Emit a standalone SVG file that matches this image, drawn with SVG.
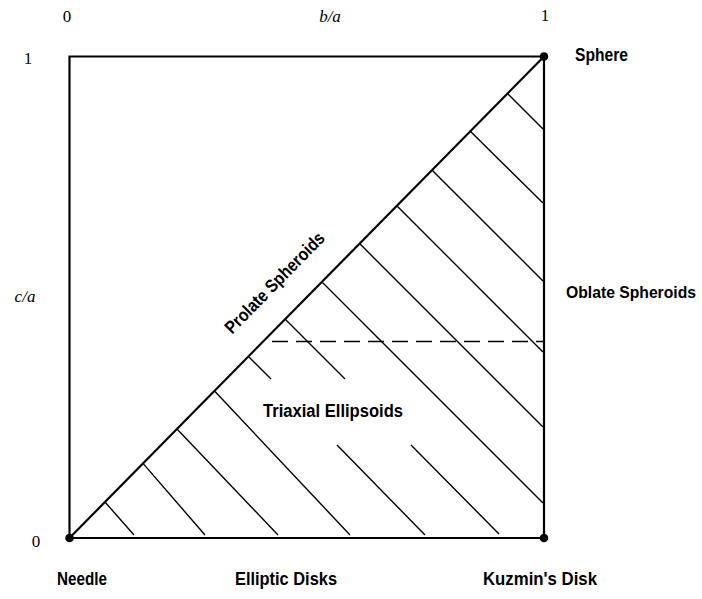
<svg xmlns="http://www.w3.org/2000/svg" width="702" height="599" viewBox="0 0 702 599">
<style>
.frame{stroke:#000;stroke-width:2.2;fill:none;stroke-linecap:square}
.hatch{stroke:#000;stroke-width:1.4;fill:none}
.dash{stroke:#000;stroke-width:1.6;fill:none;stroke-dasharray:16 8}
.dot{fill:#000}
.lbl{font-family:"Liberation Sans",Arial,sans-serif;font-weight:bold;font-size:18px;fill:#000}
.num{font-family:"Liberation Serif","Times New Roman",serif;font-size:17px;fill:#000;text-anchor:middle}
.it{font-style:italic}
</style>
<rect width="702" height="599" fill="#fff"/>
<g id="axes">
  <path class="frame" d="M69.5,538 L69.5,56.5 L544,56.5 L544,538 Z"/>
  <text class="num" x="67" y="22">0</text>
  <text class="num it" x="330" y="22">b/a</text>
  <text class="num" x="545" y="21">1</text>
  <text class="num" x="28" y="64">1</text>
  <text class="num it" x="25" y="302">c/a</text>
  <text class="num" x="36" y="547">0</text>
</g>
<g id="connectors">
  <path id="prolate-line" class="frame" d="M69.5,538 L544,56.5"/>
  <path id="hatching" class="hatch" d="M105,502 L134,535 M143,463.4 L205,535 M177,429 L278,535 M215,391.5 L350,535 M248.4,356.4 L271,379 M337,445 L425,535 M285,319 L345,379 M411,445 L499,534 M322,282 L543,503 M359.6,243.6 L543,427 M396.8,205.8 L543,352 M432.2,170.2 L543,281 M470.3,131.3 L543,203 M507.5,93.5 L543,129"/>
  <path id="dashed" class="dash" d="M272,341.5 L543,341.5"/>
</g>
<g id="node-sphere">
  <circle class="dot" cx="544" cy="56.5" r="4.3"/>
  <text class="lbl" x="575" y="61" textLength="53" lengthAdjust="spacingAndGlyphs">Sphere</text>
</g>
<g id="node-needle">
  <circle class="dot" cx="69.5" cy="538" r="4.3"/>
  <text class="lbl" x="57" y="585" textLength="50" lengthAdjust="spacingAndGlyphs">Needle</text>
</g>
<g id="node-kuzmin">
  <circle class="dot" cx="544" cy="538" r="4.3"/>
  <text class="lbl" x="483" y="585" textLength="114" lengthAdjust="spacingAndGlyphs">Kuzmin's Disk</text>
</g>
<g id="node-oblate">
  <text class="lbl" x="566" y="298" style="font-size:16px" textLength="130" lengthAdjust="spacingAndGlyphs">Oblate Spheroids</text>
</g>
<g id="node-prolate">
  <text class="lbl" x="279" y="287" text-anchor="middle" transform="rotate(-45.5 279 287)" textLength="134" lengthAdjust="spacingAndGlyphs">Prolate Spheroids</text>
</g>
<g id="node-triaxial">
  <text class="lbl" x="263" y="417" textLength="140" lengthAdjust="spacingAndGlyphs">Triaxial Ellipsoids</text>
</g>
<g id="node-elliptic">
  <text class="lbl" x="235" y="585" textLength="102" lengthAdjust="spacingAndGlyphs">Elliptic Disks</text>
</g>
</svg>
